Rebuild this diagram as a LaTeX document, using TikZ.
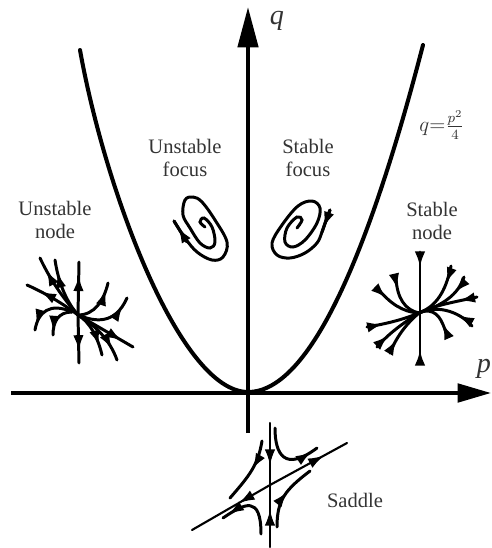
\documentclass[tikz,border=0pt]{standalone}
\usepackage{fontspec}
\setmainfont{Liberation Serif}
\usetikzlibrary{arrows.meta,decorations.markings}
\tikzset{
	region/.style={align=center, text=black!80, font=\fontsize{11.7}{12.6}\selectfont},
	axislabel/.style={text=black!80, font=\fontsize{16}{16}\selectfont\itshape},
	spiral/.style={line width=1.7pt, line cap=round},
	traj/.style={spiral, postaction={decorate},
		decoration={markings, mark=at position #1 with {\arrow{Latex[length=9pt,width=6pt]}}}},
}
\begin{document}
\begin{tikzpicture}[x=0.02cm, y=-0.02cm]
	\useasboundingbox (0,0) rectangle (492,548);

	% Ejes
	\coordinate (qfoot) at (248,433);
	\coordinate (qtip) at (248,7);
	\coordinate (pfoot) at (11,393);
	\coordinate (ptip) at (491,393);
	\draw[line width=2.3pt, -{Triangle[length=23pt,width=11.5pt]}] (qfoot) -- (qtip);
	\draw[line width=2.1pt, -{Triangle[length=19pt,width=10.5pt]}] (pfoot) -- (ptip);
	\node[axislabel] (qlabel) at (277,21) {q};
	\node[axislabel] (plabel) at (484,369) {p};

	% Parabola
	\draw[line width=2.3pt, line cap=round] (80,50) .. controls (105,190) and (180,392) .. (248,392) .. controls (315,392) and (375,230) .. (423,45);
	\node[text=black!80, font=\fontsize{11.5}{12}\selectfont] (curve) at (442,125) {$q{=}\frac{p^2}{4}$};

	% Etiquetas de las regiones
	\node[region] (ufocus) at (185,158) {Unstable\\focus};
	\node[region] (sfocus) at (308,158) {Stable\\focus};
	\node[region] (unode) at (55,220) {Unstable\\node};
	\node[region] (snode) at (432,221) {Stable\\node};
	\node[region] (saddle) at (355,500) {Saddle};

	% Foco inestable
	\draw[spiral] plot[smooth, tension=0.6] coordinates {(205,227) (200,222) (204,218) (212,227) (215,242) (210,248) (200,243) (190,228) (183,215) (185,200) (193,197) (202,202) (215,220) (227,242) (223,257) (212,260) (197,252) (185,238) (174,221)};
	\draw[traj=0.7] (187,242) -- (174,221);

	% Foco estable
	\draw[spiral] plot[smooth, tension=0.6] coordinates {(330,210) (325,223) (322,232) (317,243) (305,253) (290,258) (277,255) (272,243) (282,225) (298,206) (312,201) (320,208) (317,223) (305,240) (293,247) (285,242) (287,228) (297,217) (302,220) (297,228)};
	\draw[traj=0.8] (330,210) -- (322,232);

	% Nodo inestable
	\draw[traj=0.75] (78,315) -- (79,262);
	\draw[traj=0.75] (78,315) -- (79,363);
	\draw[traj=0.8] (78,315) .. controls (60,295) and (48,275) .. (40,258);
	\draw[traj=0.8] (78,315) .. controls (65,300) and (58,280) .. (55,260);
	\draw[traj=0.75] (78,315) .. controls (62,303) and (45,293) .. (27,285);
	\draw[traj=0.85] (78,315) .. controls (95,315) and (104,300) .. (108,283);
	\draw[traj=0.85] (78,315) .. controls (95,322) and (115,325) .. (127,298);
	\draw[traj=0.9] (72,312) .. controls (50,302) and (38,312) .. (35,330);
	\draw[traj=0.9] (72,312) .. controls (58,312) and (53,322) .. (53,335);
	\draw[traj=0.8] (78,315) -- (133,347);
	\draw[traj=0.8] (78,315) .. controls (95,325) and (110,340) .. (117,360);
	\draw[traj=0.8] (78,315) .. controls (90,322) and (98,338) .. (102,355);

	% Nodo estable
	\draw[traj=0.25] (420,252) -- (420,313);
	\draw[traj=0.25] (420,362) -- (420,313);
	\draw[traj=0.3] (451,266) .. controls (447,285) and (440,305) .. (419,313);
	\draw[traj=0.3] (464,277) .. controls (458,295) and (443,305) .. (419,313);
	\draw[traj=0.3] (477,297) .. controls (455,302) and (435,305) .. (419,313);
	\draw[traj=0.3] (472,326) .. controls (458,310) and (435,305) .. (419,313);
	\draw[traj=0.35] (447,336) .. controls (442,320) and (438,310) .. (424,311);
	\draw[traj=0.25] (396,278) .. controls (397,298) and (405,310) .. (419,313);
	\draw[traj=0.25] (378,289) .. controls (390,303) and (402,312) .. (419,313);
	\draw[traj=0.3] (367,327) .. controls (385,324) and (402,320) .. (419,313);
	\draw[traj=0.3] (377,347) .. controls (390,332) and (405,322) .. (419,313);
	\draw[traj=0.3] (390,353) .. controls (396,338) and (405,325) .. (419,313);

	% Silla
	\draw[traj=0.68, line width=1.2pt] (270,423) -- (270,485);
	\draw[traj=0.6, line width=1.2pt] (270,547) -- (270,485);
	\draw[traj=0.7, line width=1.2pt] (270,485) -- (347,443);
	\draw[traj=0.4, line width=1.2pt] (270,485) -- (192,530);
	\draw[traj=0.9] (275,428) .. controls (275,455) and (285,472) .. (317,448);
	\draw[traj=0.45] (262,441) .. controls (258,465) and (250,475) .. (230,498);
	\draw[traj=0.55] (277,527) .. controls (277,500) and (285,490) .. (310,471);
	\draw[traj=0.9] (261,534) .. controls (261,495) and (245,503) .. (223,518);
\end{tikzpicture}
\end{document}
